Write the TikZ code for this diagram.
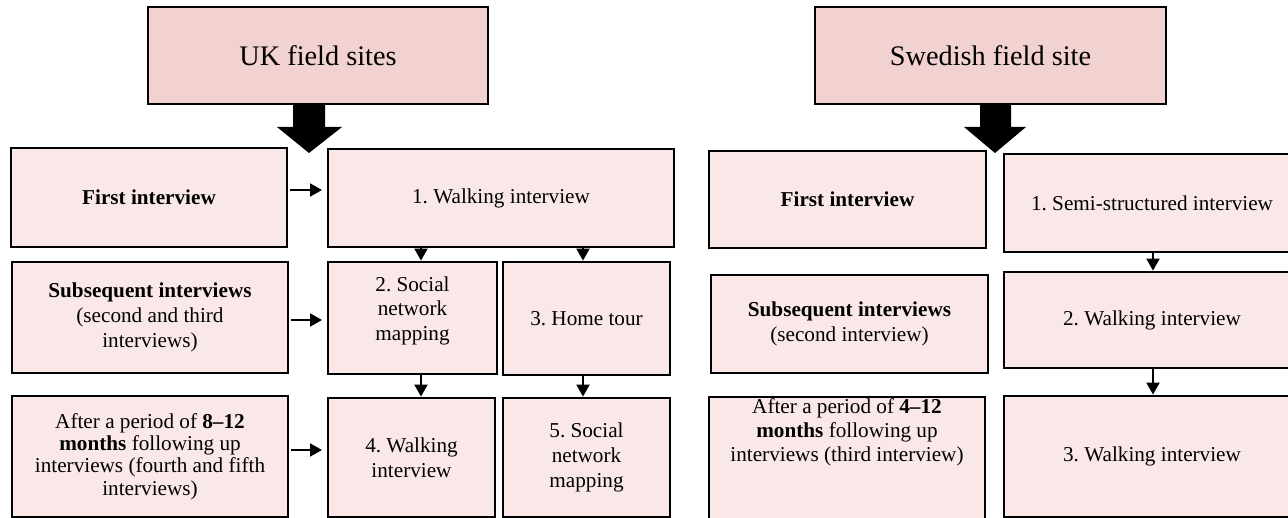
\documentclass[tikz,border=0pt]{standalone}
\usepackage{fontspec}
\setmainfont{Liberation Serif}
\usetikzlibrary{arrows.meta,calc}
\definecolor{hdrfill}{RGB}{242,209,209}
\definecolor{boxfill}{RGB}{250,232,232}
\frenchspacing
\begin{document}
\begin{tikzpicture}[x=1pt,y=-1pt,
  box/.style={draw=black, line width=2.9pt, fill=boxfill, outer sep=0pt, inner sep=0pt,
    anchor=north west, align=center, font=\fontsize{21.2}{24.8}\selectfont\frenchspacing},
  hdr/.style={box, fill=hdrfill, font=\fontsize{28.3}{34}\selectfont},
  sarrow/.style={line width=2pt, -{Triangle[length=12pt,width=13pt]}},
  bigarrow/.style={fill=black}]
\useasboundingbox (0,0) rectangle (1288,518);
\clip (0,0) rectangle (1288,518);
% headers
\node[hdr, minimum width=340pt, minimum height=97pt] (hdrUK) at (148,7) {UK field sites};
\node[hdr, minimum width=351pt, minimum height=97pt] (hdrSW) at (815,7) {Swedish field site};
% UK boxes
\node[box, minimum width=276pt, minimum height=99pt] (firstUK) at (11,148) {\textbf{First interview}};
\node[box, minimum width=346pt, minimum height=98pt] (walk1) at (328,149) {1. Walking interview};
\node[box, minimum width=276pt, minimum height=111pt] (subUK) at (12,262) {\textbf{Subsequent interviews}\\(second and third\\interviews)};
\node[box, minimum width=169pt, minimum height=112pt] (sn2) at (328,262) {\begin{tabular}{@{}c@{}}2. Social\\network\\mapping\\[14pt]\end{tabular}};
\node[box, minimum width=167pt, minimum height=113pt] (home3) at (503,262) {3. Home tour};
\node[box, minimum width=276pt, minimum height=121pt, font=\fontsize{21.2}{22.3}\selectfont\frenchspacing] (afterUK) at (12,396) {After a period of \textbf{8–12}\\\textbf{months} following up\\interviews (fourth and fifth\\interviews)};
\node[box, minimum width=167pt, minimum height=119pt] (walk4) at (328,398) {4. Walking\\interview};
\node[box, minimum width=167pt, minimum height=119pt] (sn5) at (503,398) {5. Social\\network\\mapping};
% Swedish boxes
\node[box, minimum width=277pt, minimum height=97pt] (firstSW) at (709,151) {\textbf{First interview}};
\node[box, minimum width=296pt, minimum height=98pt] (semi1) at (1004,154) {1. Semi-structured interview};
\node[box, minimum width=277pt, minimum height=98pt] (subSW) at (711,275) {\textbf{Subsequent interviews}\\(second interview)};
\node[box, minimum width=296pt, minimum height=96pt] (walk2) at (1004,272) {2. Walking interview};
\node[box, minimum width=276pt, minimum height=120pt, font=\fontsize{21.2}{24}\selectfont\frenchspacing] (afterSW) at (709,397) {\begin{tabular}{@{}c@{}}After a period of \textbf{4–12}\\\textbf{months} following up\\interviews (third interview)\\[52pt]\end{tabular}};
\node[box, minimum width=296pt, minimum height=121pt] (walk3) at (1004,396) {3. Walking interview};
% big arrows
\fill[bigarrow] ($(hdrUK.south)+(-25,0)$) -- ++(32,0) -- ++(0,23) -- ++(17,0) -- ++(-33,26) -- ++(-32,-26) -- ++(16,0) -- cycle;
\fill[bigarrow] ($(hdrSW.south)+(-10.5,0)$) -- ++(31,0) -- ++(0,23) -- ++(15,0) -- ++(-31,26) -- ++(-31,-26) -- ++(16,0) -- cycle;
% horizontal arrows
\draw[sarrow, shorten <=3pt, shorten >=6pt] (firstUK.east |- 0,190) -- (walk1.west |- 0,190);
\draw[sarrow, shorten <=3pt, shorten >=6pt] (subUK.east |- 0,320) -- (sn2.west |- 0,320);
\draw[sarrow, shorten <=3pt, shorten >=6pt] (afterUK.east |- 0,450) -- (walk4.west |- 0,450);
% vertical arrows
\draw[sarrow, shorten >=1.4pt] (walk1.south -| 421,0) -- (sn2.north -| 421,0);
\draw[sarrow, shorten >=1.4pt] (walk1.south -| 583,0) -- (home3.north -| 583,0);
\draw[sarrow, shorten >=1.4pt] (sn2.south -| 421,0) -- (walk4.north -| 421,0);
\draw[sarrow, shorten >=1.4pt] (home3.south -| 583,0) -- (sn5.north -| 583,0);
\draw[sarrow, shorten >=1.4pt] (semi1.south -| 1153,0) -- (walk2.north -| 1153,0);
\draw[sarrow, shorten >=1.4pt] (walk2.south -| 1153,0) -- (walk3.north -| 1153,0);
\end{tikzpicture}
\end{document}
